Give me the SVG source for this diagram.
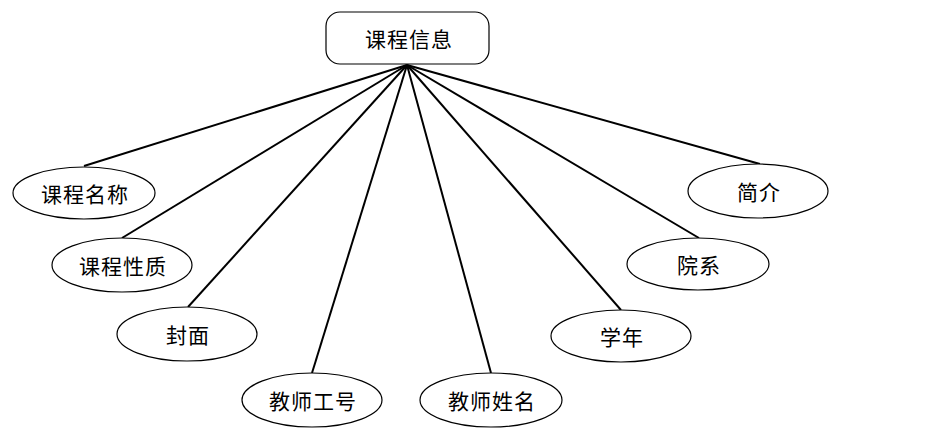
<svg xmlns="http://www.w3.org/2000/svg" width="930" height="448" viewBox="0 0 930 448">
<style>
.n{fill:#fff;stroke:#000;stroke-width:1.2}
.t{font-family:"Noto Sans CJK SC","Noto Sans CJK TC",sans-serif;font-size:21px;letter-spacing:1px;text-anchor:middle;dominant-baseline:central;fill:#000}
.c line{stroke:#000;stroke-width:2}
</style>
<rect width="930" height="448" fill="#fff"/>
<g class="c" id="connectors">
<line x1="407" y1="65" x2="84" y2="166"/>
<line x1="407" y1="65" x2="122" y2="238"/>
<line x1="407" y1="65" x2="188" y2="307"/>
<line x1="407" y1="65" x2="312" y2="373"/>
<line x1="407" y1="65" x2="491" y2="373"/>
<line x1="407" y1="65" x2="621" y2="310"/>
<line x1="407" y1="65" x2="699" y2="238"/>
<line x1="407" y1="65" x2="760" y2="164"/>
</g>
<g id="course"><rect class="n" x="326" y="12" width="163" height="52" rx="14"/><text class="t" x="409" y="38">课程信息</text></g>
<g id="name"><ellipse class="n" cx="84" cy="193" rx="71" ry="26"/><text class="t" x="85" y="193">课程名称</text></g>
<g id="nature"><ellipse class="n" cx="122" cy="265" rx="70" ry="27"/><text class="t" x="123" y="265">课程性质</text></g>
<g id="cover"><ellipse class="n" cx="187" cy="334" rx="70" ry="27"/><text class="t" x="188" y="334">封面</text></g>
<g id="tid"><ellipse class="n" cx="312" cy="400" rx="70" ry="27"/><text class="t" x="313" y="400">教师工号</text></g>
<g id="tname"><ellipse class="n" cx="491" cy="400" rx="71" ry="27"/><text class="t" x="492" y="400">教师姓名</text></g>
<g id="year"><ellipse class="n" cx="621" cy="336" rx="70" ry="26"/><text class="t" x="622" y="336">学年</text></g>
<g id="dept"><ellipse class="n" cx="698" cy="264" rx="71" ry="26"/><text class="t" x="699" y="264">院系</text></g>
<g id="intro"><ellipse class="n" cx="758" cy="191" rx="70" ry="27"/><text class="t" x="759" y="191">简介</text></g>
</svg>
